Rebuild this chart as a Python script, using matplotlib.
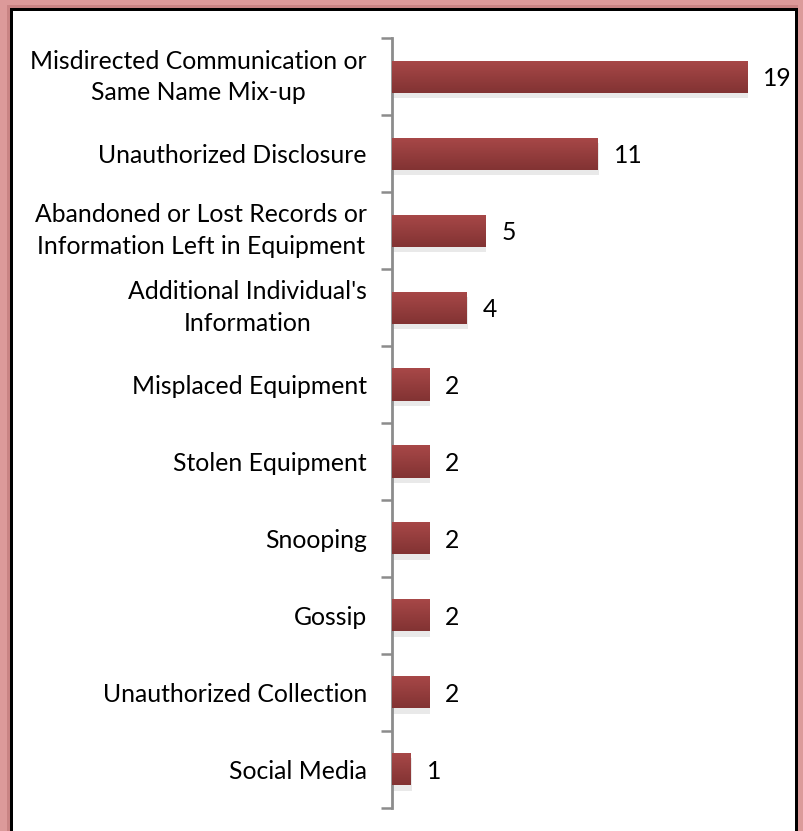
import matplotlib
matplotlib.use("Agg")
import matplotlib.pyplot as plt
import numpy as np
from matplotlib.patches import Rectangle
from matplotlib.colors import LinearSegmentedColormap

categories = [
    "Misdirected Communication or\nSame Name Mix-up",
    "Unauthorized Disclosure",
    "Abandoned or Lost Records or\nInformation Left in Equipment",
    "Additional Individual's\nInformation",
    "Misplaced Equipment",
    "Stolen Equipment",
    "Snooping",
    "Gossip",
    "Unauthorized Collection",
    "Social Media",
]
values = [19, 11, 5, 4, 2, 2, 2, 2, 2, 1]

plt.rcParams['font.family'] = ['Lato', 'DejaVu Sans']

W, H = 804, 831
fig = plt.figure(figsize=(W / 100, H / 100), dpi=100)
fig.patch.set_facecolor('white')

def px_rect(x0, y0, x1, y1, color):
    fig.patches.append(Rectangle((x0 / W, 1 - y1 / H), (x1 - x0) / W, (y1 - y0) / H,
                                 transform=fig.transFigure, facecolor=color,
                                 edgecolor='none', zorder=0))

pink = '#dc9a9a'
px_rect(0, 0, 10, H, pink)
px_rect(0, 0, W, 8, pink)
px_rect(798, 0, W, H, pink)
px_rect(7, 5, 10, H, '#c98484')
px_rect(7, 5, 798, 8, '#c98484')
px_rect(10, 8, 13, H, 'black')
px_rect(10, 8, 797, 11, 'black')
px_rect(795, 8, 798, H, 'black')

ax = fig.add_axes([392 / W, 1 - 807.5 / H, 374 / W, (807.5 - 38.5) / H])
ax.set_facecolor('none')
n = len(categories)
y = np.arange(n)
height = 0.42

# shadow
ax.barh(y + 0.07, values, height=height, left=0.05, color='#9e9e9e', alpha=0.22, zorder=1)
bars = ax.barh(y, values, height=height, color='#9a3e3e', zorder=2)

grad = np.linspace(0, 1, 50).reshape(-1, 1)
cmap = LinearSegmentedColormap.from_list('g', ['#a84848', '#823333'])
for b in bars:
    x0, y0 = b.get_x(), b.get_y()
    w, h = b.get_width(), b.get_height()
    im = ax.imshow(grad, cmap=cmap, aspect='auto', extent=(x0, x0 + w, y0 + h, y0),
                   zorder=3, interpolation='bicubic')
    im.set_clip_path(b)

for yi, v in zip(y, values):
    ax.text(v + 0.85, yi, str(v), va='center_baseline', ha='left', fontsize=17.8, color='black')

ax.set_xlim(0, 20)
ax.set_ylim(n - 0.5, -0.5)
ax.set_yticks(y)
ax.set_yticklabels(categories, fontsize=17.8, linespacing=1.45)
for lab in ax.get_yticklabels():
    lab.set_multialignment('center')
    if '\n' in lab.get_text():
        lab.set_verticalalignment('center')
ax.tick_params(axis='y', which='major', length=0, pad=18)
ax.set_yticks(np.arange(n + 1) - 0.5, minor=True)
ax.tick_params(axis='y', which='minor', length=8, width=1.8, color='#8c8c8c')
ax.set_xticks([])
for s in ['top', 'right', 'bottom']:
    ax.spines[s].set_visible(False)
ax.spines['left'].set_color('#8c8c8c')
ax.spines['left'].set_linewidth(2)
ax.set_zorder(2)

fig.savefig('out.png', dpi=100)
